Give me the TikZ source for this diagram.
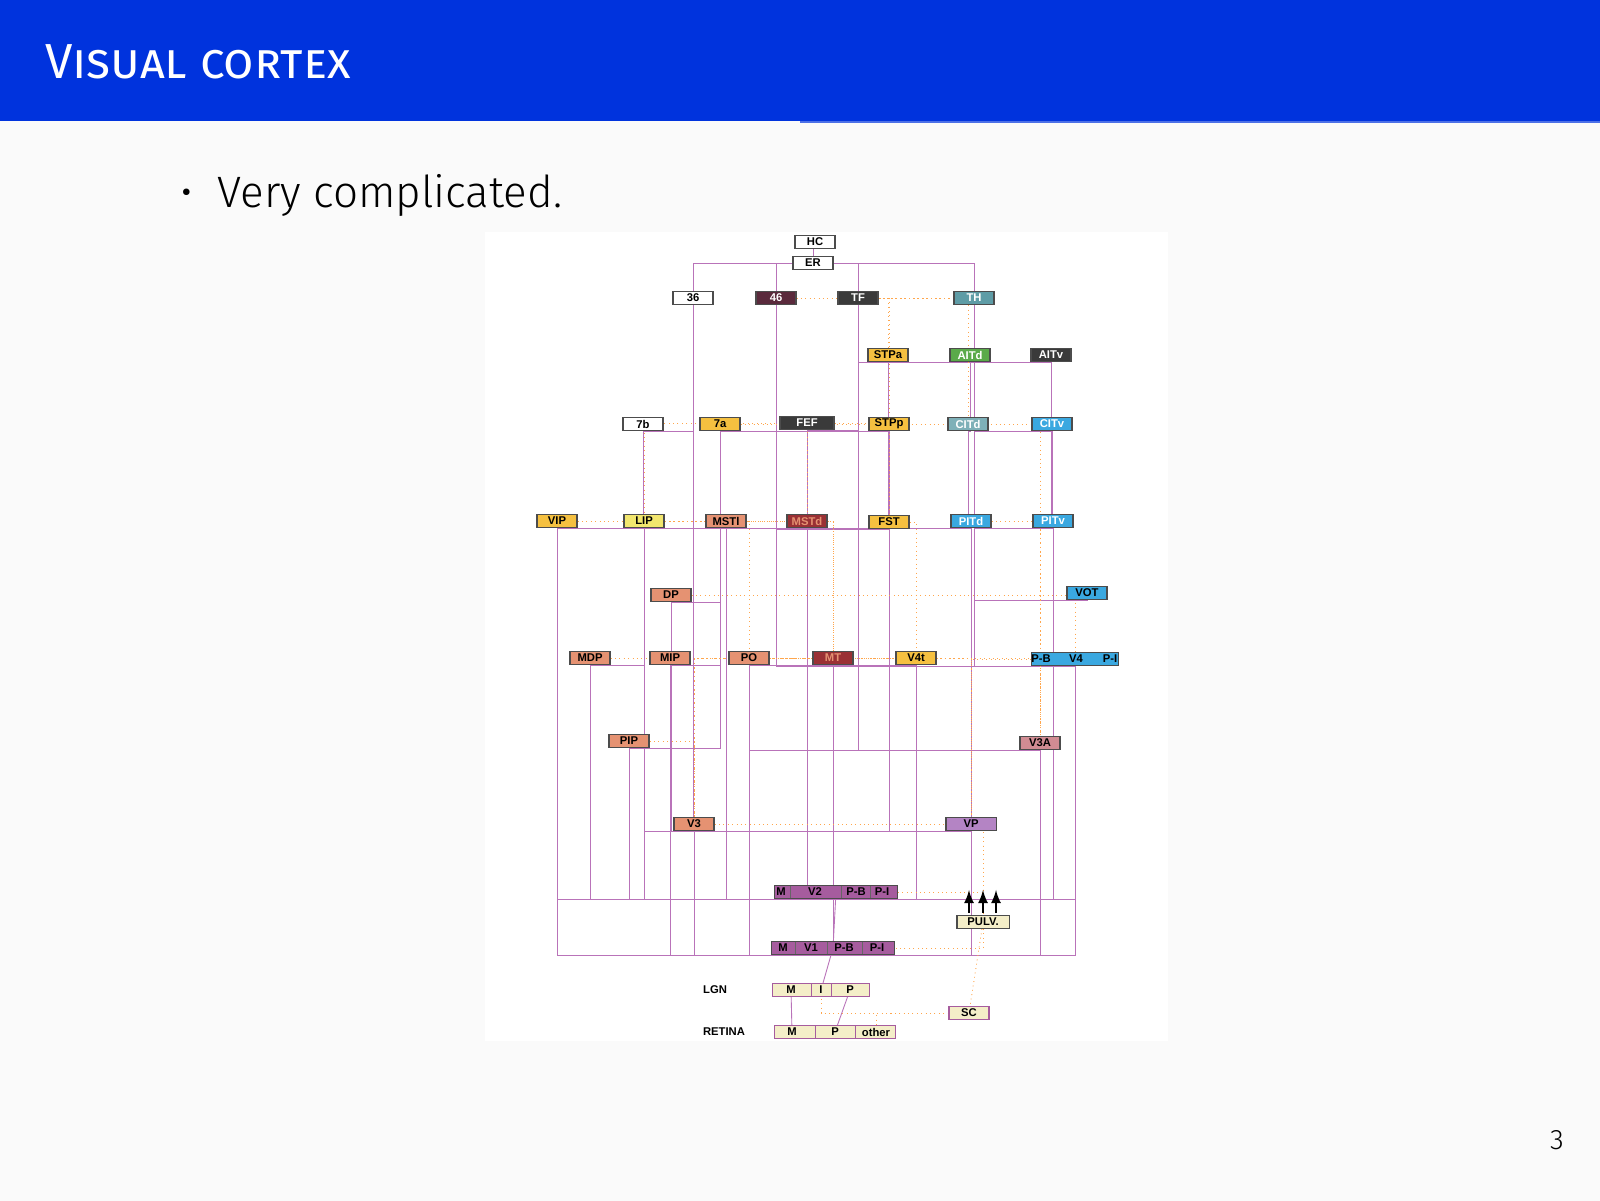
\documentclass[tikz,border=0pt]{standalone}
\usepackage{fontspec}
\setmainfont{Fira Sans}
\newfontfamily\lightfont{Fira Sans Light}
\setsansfont{Liberation Sans}
\usetikzlibrary{backgrounds}
\definecolor{slideblue}{HTML}{0033DD}
\definecolor{cOr}{HTML}{F5C040}
\definecolor{cYe}{HTML}{F2E66E}
\definecolor{cSa}{HTML}{E59272}
\definecolor{cDr}{HTML}{9A3034}
\definecolor{cMa}{HTML}{5A2A3C}
\definecolor{cDk}{HTML}{3A3A3A}
\definecolor{cTe}{HTML}{5E9CA6}
\definecolor{cGr}{HTML}{5AAA4A}
\definecolor{cBl}{HTML}{3AA8E0}
\definecolor{cPu}{HTML}{A65C9E}
\definecolor{cVp}{HTML}{B484C4}
\definecolor{cLt}{HTML}{F4EEC8}
\tikzset{
  area/.style={draw=black!70, line width=0.3pt, minimum width=0.4cm, minimum height=0.13cm,
    inner sep=0pt, font=\sffamily\bfseries\fontsize{3.2}{3.2}\selectfont},
  tag/.style={inner sep=0pt, font=\sffamily\bfseries\fontsize{3.2}{3.2}\selectfont},
  conn/.style={draw=violet!55, line width=0.25pt},
  connb/.style={draw=orange!70, line width=0.25pt, densely dotted}
}
\begin{document}
\begin{tikzpicture}[x=0.01cm,y=-0.01cm]
    \useasboundingbox (0,0) rectangle (1600,1201);
    \begin{scope}[on background layer]
    \fill[black!2] (0,0) rectangle (1600,1201);
    \fill[slideblue] (0,0) rectangle (1600,121);
    \fill[slideblue!70!white] (800,121) rectangle (1600,123);
    \fill[white] (485,232) rectangle (1168,1041);
    \end{scope}
    \node[anchor=west, text=white, font=\fontsize{14}{14}\selectfont] (title) at (33,62) {\textsc{Visual cortex}};
    \node[anchor=west, font=\lightfont\fontsize{12.5}{12.5}\selectfont] (bullet) at (168,195) {\textbullet\ \ Very complicated.};
    \node[font=\lightfont\fontsize{8}{8}\selectfont] (page) at (1557,1140) {3};

    % areas
    \node[area, fill=white]        (HC)   at (815,242) {HC};
    \node[area, fill=white]        (ER)   at (813,263) {ER};
    \node[area, fill=white]        (36)   at (693,298) {36};
    \node[area, fill=cMa, text=white] (46) at (776,298) {46};
    \node[area, fill=cDk, text=white] (TF) at (858,298) {TF};
    \node[area, fill=cTe, text=white] (TH) at (974,298) {TH};
    \node[area, fill=cOr]          (STPa) at (888,355) {STPa};
    \node[area, fill=cGr, text=white] (AITd) at (970,355) {AITd};
    \node[area, fill=cDk, text=white] (AITv) at (1051,355) {AITv};
    \node[area, fill=white]        (7b)   at (643,424) {7b};
    \node[area, fill=cOr]          (7a)   at (720,424) {7a};
    \node[area, fill=cDk, text=white, minimum width=0.54cm] (FEF) at (807,423) {FEF};
    \node[area, fill=cOr]          (STPp) at (889,424) {STPp};
    \node[area, fill=cTe!80, text=white] (CITd) at (968,424) {CITd};
    \node[area, fill=cBl, text=white] (CITv) at (1052,424) {CITv};
    \node[area, fill=cOr]          (VIP)  at (557,521) {VIP};
    \node[area, fill=cYe]          (LIP)  at (644,521) {LIP};
    \node[area, fill=cSa]          (MSTl) at (726,521) {MSTl};
    \node[area, fill=cDr, text=cSa] (MSTd) at (807,521) {MSTd};
    \node[area, fill=cOr]          (FST)  at (889,522) {FST};
    \node[area, fill=cBl, text=white] (PITd) at (971,521) {PITd};
    \node[area, fill=cBl, text=white] (PITv) at (1053,521) {PITv};
    \node[area, fill=cSa]          (DP)   at (671,595) {DP};
    \node[area, fill=cBl]          (VOT)  at (1087,593) {VOT};
    \node[area, fill=cSa]          (MDP)  at (590,658) {MDP};
    \node[area, fill=cSa]          (MIP)  at (670,658) {MIP};
    \node[area, fill=cSa]          (PO)   at (749,658) {PO};
    \node[area, fill=cDr, text=cSa] (MT)  at (833,658) {MT};
    \node[area, fill=cOr]          (V4t)  at (916,658) {V4t};
    \node[area, fill=cBl, minimum width=0.87cm] (V4) at (1075,659) {};
    \node[area, fill=cSa]          (PIP)  at (629,741) {PIP};
    \node[area, fill=cSa!60!cVp]   (V3A)  at (1040,743) {V3A};
    \node[area, fill=cSa]          (V3)   at (694,824) {V3};
    \node[area, fill=cVp, minimum width=0.5cm] (VP) at (971,824) {VP};
    \node[area, fill=cPu, minimum width=1.23cm] (V2) at (836,892) {};
    \node[area, fill=cLt, minimum width=0.52cm] (PULV) at (983,922) {PULV.};
    \node[area, fill=cPu, minimum width=1.23cm] (V1) at (833,948) {};
    \node[area, fill=cLt, draw=cPu, minimum width=0.97cm] (LGN) at (821,990) {};
    \node[area, fill=cLt, draw=cPu] (SC) at (969,1013) {SC};
    \node[area, fill=cLt, draw=cPu, minimum width=1.21cm] (RET) at (835,1032) {};
    \node[tag] (lgnlab) at (715,990) {LGN};
    \node[tag] (retlab) at (724,1032) {RETINA};

    % compartments
    \node[tag] (V4pb) at (1041,659) {P-B};
    \node[tag] (V4c)  at (1076,659) {V4};
    \node[tag] (V4pi) at (1110,659) {P-I};
    \node[tag] (V2m)  at (781,892) {M};
    \node[tag] (V2c)  at (815,892) {V2};
    \node[tag] (V2pb) at (856,892) {P-B};
    \node[tag] (V2pi) at (882,892) {P-I};
    \node[tag] (V1m)  at (783,948) {M};
    \node[tag] (V1c)  at (811,948) {V1};
    \node[tag] (V1pb) at (844,948) {P-B};
    \node[tag] (V1pi) at (877,948) {P-I};
    \node[tag] (LGNm) at (791,990) {M};
    \node[tag] (LGNi) at (821,990) {I};
    \node[tag] (LGNp) at (850,990) {P};
    \node[tag] (RETm) at (792,1032) {M};
    \node[tag] (RETp) at (835,1032) {P};
    \node[tag] (RETo) at (876,1032) {other};
    \foreach \x in {790,841,870} \draw[black!60, line width=0.2pt] (\x,886) -- (\x,898);
    \foreach \x in {795,827,862} \draw[black!60, line width=0.2pt] (\x,942) -- (\x,954);
    \foreach \x in {811,831} \draw[cPu, line width=0.2pt] (\x,984) -- (\x,996);
    \foreach \x in {815,855} \draw[cPu, line width=0.2pt] (\x,1026) -- (\x,1038);

    % connections
    \begin{scope}[on background layer]
    \foreach \a/\b in {HC/ER, ER/46, ER/TF, ER/TH, ER/36}
        \draw[conn] (\a) -| (\b);
    \foreach \a/\b in {46/7a, 46/LIP, 46/MSTl, 46/MSTd, 46/FST, 46/PO, 46/MT, 46/V4, 46/VIP,
                       TF/STPa, TF/FEF, TF/PITd, TF/V4t, TF/FST, TF/MT, TF/V3A, TH/AITd, TH/CITv,
                       TH/PITv, TH/V4, TH/VOT, 36/7b, 36/V3, FEF/MT, FEF/PO, FEF/V4, FEF/V2,
                       7a/MIP, 7a/DP, 7a/PIP, 7b/VIP, STPa/FST, STPp/MSTd, STPp/V4t,
                       LIP/MDP, LIP/V3, LIP/V2, MSTl/V2, MSTd/V2, MSTd/V3A, FST/V3, FST/VP,
                       PITd/V4, PITd/VP, PITv/VOT, PITv/V2, CITd/PITd, CITv/PITv, AITd/CITd,
                       AITv/CITv, AITv/PITv, VIP/V1, VIP/V2, MDP/V2, MIP/V1, PO/V1, MT/V1,
                       MT/V2, V4t/V2, V4/V2, V4/V1, V3A/V1, V3A/V2, PIP/V2, DP/V3, V3/V1,
                       V3/V2, VP/V2, VP/V1, PO/V3A, MIP/PIP, STPp/7a, STPa/AITv}
        \draw[conn] (\a) |- ([yshift=-4]\b.north) -- (\b);
    \foreach \a/\b in {46/STPp, TF/CITd, TH/STPa, FEF/LIP, FEF/FST, 7a/MSTd, 7a/V3A, LIP/PO,
                       MSTl/MT, FST/V4t, PITd/V3A, V4/VP, V4t/V3, MT/V3, PO/VP, DP/V4,
                       VIP/MT, MDP/V3A, PIP/V3, V3/PULV, VP/PULV, V2/PULV}
        \draw[connb] (\a) -| (\b);
    \draw[conn] (V2) -- (V1);
    \draw[conn] (V1) -- (LGN);
    \draw[conn] (LGNm) -- (RETm);
    \draw[conn] (LGNp) -- (RETp);
    \draw[connb] (PULV) -- (SC);
    \draw[connb] (SC) -| (RETo);
    \draw[connb] (PULV) |- (V1pi);
    \draw[connb] (LGNi) |- (SC);
    \end{scope}
    \foreach \x in {969,983,996}
        \draw[-latex, line width=0.3pt] (\x,913) -- (\x,890);
\end{tikzpicture}
\end{document}
